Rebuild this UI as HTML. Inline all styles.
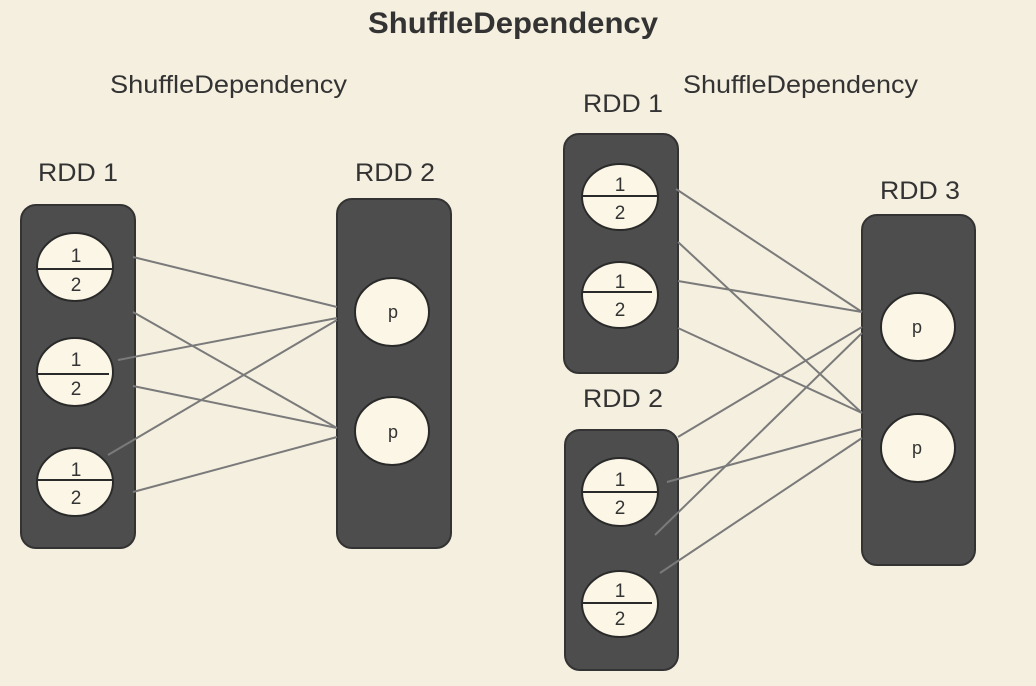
<!DOCTYPE html>
<html><head><meta charset="utf-8"><style>
html,body{margin:0;padding:0;background:#f5efdf;}
svg{display:block}
text{font-family:"Liberation Sans",sans-serif;fill:#333}
</style></head><body>
<svg width="1036" height="686" viewBox="0 0 1036 686">
<rect width="1036" height="686" fill="#f5efdf"/>
<text x="368" y="33" font-size="30" font-weight="bold" textLength="290" lengthAdjust="spacingAndGlyphs">ShuffleDependency</text>
<text x="110" y="93" font-size="25" textLength="237" lengthAdjust="spacingAndGlyphs">ShuffleDependency</text>
<text x="683" y="93" font-size="25" textLength="235" lengthAdjust="spacingAndGlyphs">ShuffleDependency</text>
<text x="38" y="181" font-size="25" textLength="80" lengthAdjust="spacingAndGlyphs">RDD 1</text>
<text x="355" y="181" font-size="25" textLength="80" lengthAdjust="spacingAndGlyphs">RDD 2</text>
<text x="583" y="112" font-size="25" textLength="80" lengthAdjust="spacingAndGlyphs">RDD 1</text>
<text x="880" y="199" font-size="25" textLength="80" lengthAdjust="spacingAndGlyphs">RDD 3</text>
<text x="583" y="407" font-size="25" textLength="80" lengthAdjust="spacingAndGlyphs">RDD 2</text>
<g fill="#4d4d4d" stroke="#333" stroke-width="2">
<rect x="21" y="205" width="114" height="343" rx="15"/>
<rect x="337" y="199" width="114" height="349" rx="15"/>
<rect x="564" y="134" width="114" height="239" rx="15"/>
<rect x="565" y="430" width="113" height="240" rx="15"/>
<rect x="862" y="215" width="113" height="350" rx="15"/>
</g>
<g stroke="#7a7a7a" stroke-width="2" fill="none">
<line x1="133" y1="257" x2="337" y2="307"/>
<line x1="133" y1="312" x2="337" y2="428"/>
<line x1="118" y1="360" x2="337" y2="318"/>
<line x1="133" y1="386" x2="337" y2="428"/>
<line x1="108" y1="455" x2="337" y2="320"/>
<line x1="133" y1="492" x2="337" y2="437"/>
<line x1="676" y1="189" x2="862" y2="312"/>
<line x1="678" y1="242" x2="862" y2="413"/>
<line x1="678" y1="281" x2="862" y2="312"/>
<line x1="678" y1="328" x2="862" y2="413"/>
<line x1="678" y1="437" x2="862" y2="327"/>
<line x1="667" y1="482" x2="862" y2="429"/>
<line x1="655" y1="535" x2="862" y2="333"/>
<line x1="660" y1="573" x2="862" y2="438"/>
</g>
<g fill="#fbf6e6" stroke="#2a2a2a" stroke-width="2">
<ellipse cx="75" cy="267" rx="38" ry="34"/>
<ellipse cx="75" cy="372" rx="38" ry="34"/>
<ellipse cx="75" cy="482" rx="38" ry="34"/>
<ellipse cx="620" cy="197" rx="38" ry="33"/>
<ellipse cx="620" cy="295" rx="38" ry="33"/>
<ellipse cx="620" cy="492" rx="38" ry="34"/>
<ellipse cx="620" cy="604" rx="38" ry="33"/>
<ellipse cx="392" cy="312" rx="37" ry="34"/>
<ellipse cx="392" cy="431" rx="37" ry="34"/>
<ellipse cx="918" cy="327" rx="37" ry="34"/>
<ellipse cx="918" cy="448" rx="37" ry="34"/>
</g>
<g stroke="#2a2a2a" stroke-width="2">
<line x1="37" y1="269" x2="113" y2="269"/>
<line x1="37" y1="374" x2="109" y2="374"/>
<line x1="37" y1="480" x2="113" y2="480"/>
<line x1="582" y1="196" x2="658" y2="196"/>
<line x1="582" y1="292" x2="652" y2="292"/>
<line x1="582" y1="492" x2="658" y2="492"/>
<line x1="582" y1="603" x2="652" y2="603"/>
</g>
<g font-size="19" text-anchor="middle">
<text x="76" y="262">1</text><text x="76" y="291">2</text>
<text x="76" y="366">1</text><text x="76" y="395">2</text>
<text x="76" y="476">1</text><text x="76" y="504">2</text>
<text x="620" y="191">1</text><text x="620" y="219">2</text>
<text x="620" y="288">1</text><text x="620" y="316">2</text>
<text x="620" y="486">1</text><text x="620" y="514">2</text>
<text x="620" y="597">1</text><text x="620" y="625">2</text>
<text x="393" y="318" font-size="18">p</text>
<text x="393" y="438" font-size="18">p</text>
<text x="917" y="333" font-size="18">p</text>
<text x="917" y="454" font-size="18">p</text>
</g>
</svg>
</body></html>
